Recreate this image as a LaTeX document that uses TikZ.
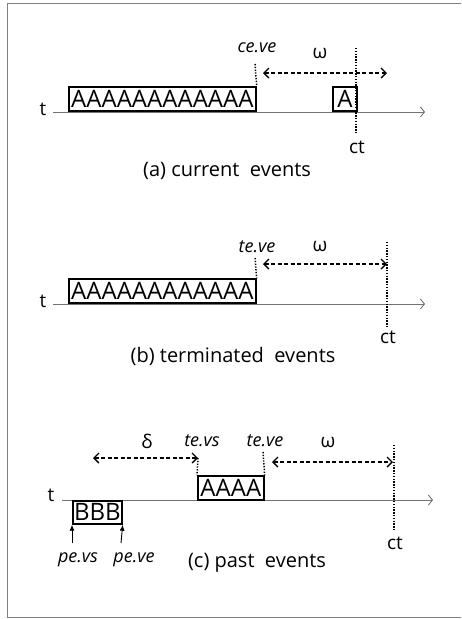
\documentclass[tikz,border=0pt]{standalone}
\usepackage{fontspec}
\setmainfont{Open Sans}
\usetikzlibrary{arrows.meta}
\begin{document}
\begin{tikzpicture}[x=1pt,y=-1pt,
  axis/.style={draw=black!55, line width=0.9pt, -{Straight Barb[length=4pt,width=10pt]}},
  evbox/.style={draw, line width=1.7pt, inner sep=0pt, font=\fontsize{24}{24}\selectfont},
  vline/.style={line width=1.5pt, dash pattern=on 1.3pt off 1.5pt},
  warrow/.style={line width=1.4pt, dash pattern=on 4pt off 2.5pt,
     {Straight Barb[length=5pt,width=10pt]}-{Straight Barb[length=5pt,width=10pt]}},
  parrow/.style={line width=0.9pt, -{Latex[length=6pt,width=5pt]}},
  lbl/.style={font=\fontsize{19}{19}\selectfont, inner sep=0pt},
  ilbl/.style={font=\fontsize{18}{18}\selectfont\itshape, inner sep=0pt},
  captxt/.style={font=\fontsize{20}{20}\selectfont, inner sep=0pt}]
\useasboundingbox (0,0) rectangle (461,619);
\draw[black!50, line width=0.8pt] (461,3) -- (7,3) -- (7,617) -- (461,617);

% ---------- (a) ----------
\coordinate (a-ax0) at (53,112);
\coordinate (a-ax1) at (425,112);
\draw[axis] (a-ax0) -- (a-ax1);
\node[lbl] (a-t) at (43,109) {t};
\node[evbox, minimum width=187pt, minimum height=24pt, anchor=south west] (a-long) at (68,112) {AAAAAAAAAAAA};
\node[evbox, minimum width=24pt, minimum height=24pt, anchor=south west] (a-short) at (332,112) {A};
\coordinate (a-ve) at (255,64);
\draw[vline] (a-ve) -- (a-long.north east);
\node[ilbl] (a-velbl) at (257,48) {ce.ve};
\node[lbl] (a-om) at (320,54) {ω};
\coordinate (a-w0) at (263,73);
\coordinate (a-w1) at (387,73);
\draw[warrow] (a-w0) -- (a-w1);
\coordinate (a-ct0) at (356,48);
\coordinate (a-ct1) at (356,133);
\draw[vline] (a-ct0) -- (a-ct1);
\node[lbl] (a-ct) at (357,147) {ct};
\node[captxt] (a-cap) at (227,171) {(a) current\ \ events};

% ---------- (b) ----------
\coordinate (b-ax0) at (53,304);
\coordinate (b-ax1) at (425,304);
\draw[axis] (b-ax0) -- (b-ax1);
\node[lbl] (b-t) at (43,301) {t};
\node[evbox, minimum width=187pt, minimum height=24pt, anchor=south west] (b-long) at (68,304) {AAAAAAAAAAAA};
\coordinate (b-ve) at (255,258);
\draw[vline] (b-ve) -- (b-long.north east);
\node[ilbl] (b-velbl) at (257,247) {te.ve};
\node[lbl] (b-om) at (320,247) {ω};
\coordinate (b-w0) at (263,264);
\coordinate (b-w1) at (387,264);
\draw[warrow] (b-w0) -- (b-w1);
\coordinate (b-ct0) at (387,242);
\coordinate (b-ct1) at (387,327);
\draw[vline] (b-ct0) -- (b-ct1);
\node[lbl] (b-ct) at (388,337) {ct};
\node[captxt] (b-cap) at (233,356) {(b) terminated\ \ events};

% ---------- (c) ----------
\coordinate (c-ax0) at (62,500);
\coordinate (c-ax1) at (433,500);
\draw[axis] (c-ax0) -- (c-ax1);
\node[lbl] (c-t) at (51,495) {t};
\node[evbox, minimum width=49pt, minimum height=23pt, anchor=north west] (c-bbb) at (72,500) {BBB};
\node[evbox, minimum width=66pt, minimum height=24pt, anchor=south west] (c-aaaa) at (197,501) {AAAA};
\coordinate (c-pvs) at (72,543);
\coordinate (c-pve) at (121,543);
\draw[parrow] (c-pvs) -- (c-bbb.south west);
\draw[parrow] (c-pve) -- (c-bbb.south east);
\node[ilbl] (c-pvslbl) at (78,560) {pe.vs};
\node[ilbl] (c-pvelbl) at (134,560) {pe.ve};
\node[ilbl] (c-tvslbl) at (202,441) {te.vs};
\node[ilbl] (c-tvelbl) at (265,441) {te.ve};
\node[lbl] (c-de) at (147,441) {δ};
\coordinate (c-d0) at (93,458);
\coordinate (c-d1) at (198,458);
\draw[warrow] (c-d0) -- (c-d1);
\draw[vline] (c-d1) -- (c-aaaa.north west);
\coordinate (c-ve) at (263,452);
\draw[vline] (c-ve) -- (c-aaaa.north east);
\node[lbl] (c-om) at (328,443) {ω};
\coordinate (c-w0) at (272,462);
\coordinate (c-w1) at (393,462);
\draw[warrow] (c-w0) -- (c-w1);
\coordinate (c-ct0) at (394,445);
\coordinate (c-ct1) at (394,530);
\draw[vline] (c-ct0) -- (c-ct1);
\node[lbl] (c-ct) at (395,543) {ct};
\node[captxt] (c-cap) at (257,563) {(c) past\ \ events};
\end{tikzpicture}
\end{document}
